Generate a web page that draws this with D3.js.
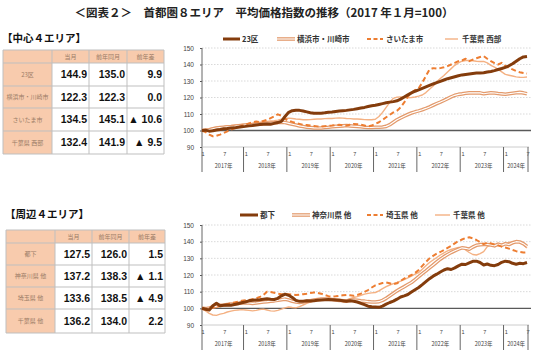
<!DOCTYPE html>
<html>
<head>
<meta charset="utf-8">
<script src="https://cdn.jsdelivr.net/npm/d3@7"></script>
<style>
  body { margin: 0; background: #fff; }
  svg { display: block; }
  text { font-family: "Noto Sans CJK JP", "Noto Sans", sans-serif; }
  .num { font-family: "Liberation Sans", Arial, sans-serif; font-weight: bold; }
</style>
</head>
<body>
<div id="chart"></div>
<script>
// ---- data (monthly index, 2017-01 .. 2024-07, 2017-01 = 100) ----
var years = ["2017年", "2018年", "2019年", "2020年", "2021年", "2022年", "2023年", "2024年"];
var colHeads = ["当月", "前年同月", "前年差"];

var centralNames = ["23区", "横浜市・川崎市", "さいたま市", "千葉県 西部"];
var centralNow = [144.9, 122.3, 134.5, 132.4];
var centralPrev = [135.0, 122.3, 145.1, 141.9];
var centralDiff = [9.9, 0.0, -10.6, -9.5];

var suburbNames = ["都下", "神奈川県 他", "埼玉県 他", "千葉県 他"];
var suburbNow = [127.5, 137.2, 133.6, 136.2];
var suburbPrev = [126.0, 138.3, 138.5, 134.0];
var suburbDiff = [1.5, -1.1, -4.9, 2.2];

var s23ku = [
  100, 100.2, 99.6, 99.8, 100.3, 100.6, 101.0, 101.2, 101.5, 101.6, 102.0, 102.3,
  102.5, 102.8, 103.0, 103.3, 103.6, 103.8, 104.0, 103.8, 104.3, 104.8, 105.5, 108.5,
  111.0, 112.0, 112.3, 112.2, 111.8, 111.3, 110.8, 110.5, 110.4, 110.5, 110.7, 111.0,
  111.2, 111.5, 111.8, 112.0, 112.2, 112.5, 112.8, 113.2, 113.6, 114.0, 114.5, 115.0,
  115.3, 115.8, 116.3, 116.8, 117.2, 117.5, 118.0, 119.0, 120.3, 121.6, 122.8, 123.8,
  124.6, 125.5, 126.4, 127.3, 128.2, 129.0, 129.8, 130.6, 131.4, 132.0, 132.6, 133.2,
  133.7, 134.0, 134.3, 134.6, 134.8, 134.9, 135.0, 135.4, 135.8, 136.3, 137.0, 137.6,
  138.3, 139.2, 140.5, 142.0, 143.5, 144.6, 144.9];
var sYokohama = [
  100, 100.3, 100.5, 101.0, 101.5, 101.8, 102.0, 102.2, 102.3, 102.5, 102.8, 103.0,
  103.3, 103.5, 103.6, 103.8, 104.0, 104.2, 104.4, 104.5, 104.7, 104.8, 105.0, 104.8,
  104.3, 103.8, 103.3, 102.8, 102.4, 102.0, 101.8, 101.6, 101.5, 101.6, 101.8, 102.0,
  102.3, 102.5, 102.6, 102.8, 103.0, 102.8, 102.6, 102.5, 102.3, 102.0, 101.8, 101.8,
  102.0, 102.0, 102.1, 102.5, 103.5, 105.0, 106.5, 107.6, 108.7, 109.7, 110.6, 111.3,
  111.9, 112.6, 113.4, 114.3, 115.3, 116.3, 117.2, 118.2, 119.3, 120.4, 121.3, 121.9,
  122.2, 122.6, 122.8, 122.9, 122.8, 122.8, 122.3, 122.6, 122.9, 122.7, 122.4, 122.2,
  122.0, 122.3, 122.6, 122.9, 123.1, 122.8, 122.3];
var sSaitama = [
  100, 99.0, 97.5, 96.5, 96.8, 97.5, 98.5, 99.5, 100.5, 101.3, 102.0, 102.8,
  103.5, 104.3, 105.0, 105.5, 105.0, 105.8, 106.5, 107.5, 108.5, 109.8, 109.0, 107.0,
  106.0, 105.2, 104.5, 104.0, 103.5, 103.3, 103.0, 102.8, 102.5, 102.4, 102.6, 102.8,
  103.0, 103.3, 103.5, 103.2, 103.0, 103.5, 104.0, 103.8, 103.5, 103.0, 102.5, 103.0,
  104.0, 105.0, 106.5, 108.0, 109.5, 111.0, 112.0, 114.0, 117.0, 120.5, 123.0, 124.5,
  125.5, 129.0, 133.0, 137.0, 137.8, 137.5, 137.8, 138.3, 139.0, 140.0, 141.0, 142.0,
  142.5, 143.5, 142.0, 143.0, 143.8, 144.5, 145.1, 143.5, 142.0, 140.8, 140.0, 141.0,
  139.0, 138.0, 137.0, 136.0, 135.3, 134.8, 134.5];
var sChibaWest = [
  100, 100.5, 101.0, 101.5, 102.0, 102.3, 102.5, 102.8, 103.0, 103.3, 103.5, 103.8,
  104.0, 104.3, 104.5, 104.8, 105.0, 105.2, 105.5, 105.8, 106.0, 106.3, 106.8, 107.3,
  107.5, 107.3, 107.0, 106.8, 106.5, 106.5, 106.6, 106.8, 107.0, 107.0, 107.2, 107.3,
  107.3, 107.5, 107.6, 107.5, 107.3, 107.2, 107.0, 107.0, 106.8, 106.6, 106.5, 106.5,
  106.8, 108.5, 111.0, 114.0, 117.0, 119.5, 120.2, 120.3, 120.0, 119.8, 120.0, 120.3,
  120.8, 121.5, 123.0, 125.0, 127.0, 129.5, 131.5, 133.3, 135.5, 137.5, 139.5, 141.0,
  142.0, 142.4, 142.5, 142.3, 142.0, 141.8, 141.9, 141.0, 139.5, 138.4, 137.0, 135.5,
  134.0, 133.5, 133.0, 132.5, 132.3, 132.2, 132.4];

var sToka = [
  100, 99.5, 99.0, 101.5, 103.0, 101.5, 101.8, 102.0, 101.8, 102.3, 102.8, 103.3,
  103.8, 104.5, 104.8, 105.0, 105.2, 105.5, 105.8, 105.5, 105.3, 106.0, 107.5, 108.5,
  107.8, 106.5, 104.8, 104.2, 104.3, 104.5, 104.4, 104.6, 104.8, 105.0, 105.2, 105.3,
  105.2, 105.0, 104.8, 104.5, 104.2, 104.5, 104.3, 103.8, 103.0, 102.2, 101.3, 101.0,
  100.8, 100.6, 101.3, 102.5, 103.5, 104.3, 105.5, 106.8, 107.5, 108.3, 109.8, 111.2,
  112.5, 114.2, 116.0, 117.8, 119.3, 120.5, 121.8, 123.0, 123.8, 123.3, 124.3, 125.5,
  126.5, 126.3, 127.3, 128.2, 128.3, 127.5, 126.0, 126.6, 125.8, 125.6, 126.3, 127.6,
  128.3, 128.0, 127.0, 126.5, 127.0, 126.8, 127.5];
var sKanagawa = [
  100, 99.8, 100.2, 100.8, 101.3, 101.8, 102.0, 102.3, 102.5, 102.7, 103.0, 103.2,
  103.3, 103.2, 103.0, 103.2, 103.5, 103.8, 104.0, 104.3, 104.5, 104.8, 105.2, 105.5,
  105.0, 104.3, 103.8, 103.6, 103.8, 104.2, 104.6, 105.0, 105.3, 105.5, 105.6, 105.5,
  105.3, 105.0, 104.8, 104.5, 104.3, 104.8, 105.0, 104.8, 104.5, 104.3, 104.0, 103.8,
  103.8, 104.0, 104.8, 106.0, 107.5, 109.0, 110.5, 111.8, 113.0, 114.3, 115.5, 117.2,
  119.0, 120.8, 122.5, 124.3, 126.0, 127.8, 129.5, 131.0, 132.3, 133.5, 134.5, 135.5,
  136.3, 136.0, 135.5, 136.8, 137.8, 138.2, 138.3, 138.3, 138.0, 137.5, 138.5, 137.8,
  138.8, 138.3, 139.3, 140.0, 139.8, 138.8, 137.2];
var sSaitamaOther = [
  100, 99.3, 99.8, 100.5, 101.0, 101.5, 102.0, 102.5, 103.0, 103.5, 104.0, 104.5,
  104.8, 105.0, 105.5, 106.0, 106.8, 108.0, 110.0, 109.8, 109.3, 108.8, 108.5, 108.5,
  108.5, 108.3, 108.0, 108.2, 108.5, 108.8, 109.2, 109.5, 109.3, 108.8, 108.0, 107.3,
  107.0, 107.2, 107.5, 107.8, 108.0, 107.8, 107.5, 108.0, 108.8, 109.8, 111.0, 112.5,
  113.8, 114.5, 115.2, 115.5, 115.0, 114.5, 115.0, 116.5, 117.8, 119.0, 120.0, 121.2,
  123.0, 125.5, 127.8, 130.0, 131.5, 132.8, 133.8, 135.0, 136.3, 137.5, 139.0, 140.3,
  141.3, 142.2, 142.6, 142.0, 141.0, 139.8, 138.5, 139.3, 139.0, 138.3, 137.8, 137.0,
  136.5, 135.8, 135.0, 134.3, 133.8, 133.5, 133.6];
var sChibaOther = [
  100, 98.5, 97.0, 96.0, 95.8, 96.5, 97.0, 97.8, 98.3, 98.8, 99.0, 99.2,
  99.0, 98.8, 98.5, 98.8, 99.3, 99.5, 99.0, 98.5, 98.3, 98.8, 99.5, 100.3,
  100.8, 100.5, 100.3, 101.0, 102.0, 103.0, 103.8, 104.5, 105.0, 105.5, 105.3, 105.0,
  105.3, 105.5, 105.2, 104.8, 105.0, 105.8, 106.5, 107.0, 107.8, 108.5, 109.0, 109.3,
  109.5, 110.5, 111.8, 113.0, 114.0, 114.8, 115.5, 116.3, 117.3, 118.3, 119.3, 120.5,
  121.5, 123.5, 125.5, 127.5, 129.0, 130.5, 132.0, 133.3, 134.5, 135.3, 136.0, 136.5,
  136.5, 135.0, 133.5, 132.3, 132.0, 132.8, 134.0, 137.0, 138.0, 138.3, 138.0, 138.5,
  139.0, 139.5, 140.0, 140.2, 139.5, 138.0, 136.2];

var yTicks = [90, 100, 110, 120, 130, 140, 150];

// ---- drawing ----
var W = 536, H = 363;
var svg = d3.select("#chart").append("svg").attr("width", W).attr("height", H);

svg.append("text")
  .attr("x", 264).attr("y", 17)
  .attr("text-anchor", "middle")
  .style("font-size", "11.5px").style("font-weight", "bold").attr("fill", "#222")
  .text("＜図表２＞　首都圏８エリア　平均価格指数の推移（2017 年１月=100）");

var styles = [
  {color: "#843c0c", width: 3, dash: null, dbl: false},
  {color: "#e39a6c", width: 3.6, dash: null, dbl: true},
  {color: "#ed7d31", width: 2, dash: "5,3", dbl: false},
  {color: "#f4b183", width: 1.4, dash: null, dbl: false}
];

function fmtDiff(v) {
  return v < 0 ? "▲ " + d3.format(".1f")(-v) : d3.format(".1f")(v);
}

function drawTable(cfg) {
  var g = svg.append("g");
  var xs = cfg.xs, ys = cfg.ys;
  g.append("text").attr("x", cfg.titleX).attr("y", cfg.titleY)
    .style("font-size", "10.5px").style("font-weight", "bold").attr("fill", "#111")
    .text(cfg.title);
  // peach cells: header row and label column
  g.append("rect").attr("x", xs[0]).attr("y", ys[0]).attr("width", xs[4] - xs[0]).attr("height", ys[1] - ys[0]).attr("fill", "#f8cbad");
  g.append("rect").attr("x", xs[0]).attr("y", ys[0]).attr("width", xs[1] - xs[0]).attr("height", ys[5] - ys[0]).attr("fill", "#f8cbad");
  xs.forEach(function (x) {
    g.append("line").attr("x1", x).attr("x2", x).attr("y1", ys[0]).attr("y2", ys[5]).attr("stroke", "#bfbfbf").attr("stroke-width", 1);
  });
  ys.forEach(function (y) {
    g.append("line").attr("x1", xs[0]).attr("x2", xs[4]).attr("y1", y).attr("y2", y).attr("stroke", "#bfbfbf").attr("stroke-width", 1);
  });
  colHeads.forEach(function (h, i) {
    g.append("text").attr("x", (xs[i + 1] + xs[i + 2]) / 2).attr("y", (ys[0] + ys[1]) / 2 + 2.3)
      .attr("text-anchor", "middle").style("font-size", "6px").attr("fill", "#9a7b66").text(h);
  });
  cfg.names.forEach(function (n, r) {
    var cy = (ys[r + 1] + ys[r + 2]) / 2;
    g.append("text").attr("x", (xs[0] + xs[1]) / 2).attr("y", cy + 2.2)
      .attr("text-anchor", "middle").style("font-size", "6px").attr("fill", "#9a7b66").text(n);
    var vals = [d3.format(".1f")(cfg.now[r]), d3.format(".1f")(cfg.prev[r]), fmtDiff(cfg.diff[r])];
    vals.forEach(function (v, c) {
      g.append("text").attr("class", "num").attr("x", xs[c + 2] - 2).attr("y", cy + 3.8)
        .attr("text-anchor", "end").style("font-size", "10.5px").attr("fill", "#111").text(v);
    });
  });
}

function drawChart(cfg) {
  var g = svg.append("g");
  var x = d3.scaleLinear().domain([0, 90]).range([cfg.x0, cfg.x1]);
  var y = d3.scaleLinear().domain([90, 150]).range([cfg.yBottom, cfg.yTop]);

  // grid lines
  g.selectAll(".grid").data(yTicks.filter(function (t) { return t !== 100 && t !== 90; }))
    .enter().append("line")
    .attr("x1", cfg.x0).attr("x2", cfg.x1 + 4)
    .attr("y1", function (d) { return y(d); }).attr("y2", function (d) { return y(d); })
    .attr("stroke", "#cfcfcf").attr("stroke-width", 0.8).attr("stroke-dasharray", "1.5,1.5");

  var yAxis = g.append("g").attr("transform", "translate(" + cfg.x0 + ",0)")
    .call(d3.axisLeft(y).tickValues(yTicks).tickSize(2).tickFormat(d3.format("d")));
  yAxis.select(".domain").remove();
  yAxis.selectAll("line").attr("stroke", "#555");
  yAxis.selectAll("text").style("font-size", "6.5px").attr("fill", "#444")
    .style("font-family", "'Liberation Sans', Arial, sans-serif").attr("dx", "-3");

  // vertical axis line (down through the date labels)
  g.append("line").attr("x1", cfg.x0).attr("x2", cfg.x0).attr("y1", cfg.yTop).attr("y2", cfg.yBottom + 25)
    .attr("stroke", "#666").attr("stroke-width", 1);
  // 90 line (category axis)
  g.append("line").attr("x1", cfg.x0).attr("x2", cfg.x1 + 2).attr("y1", y(90)).attr("y2", y(90))
    .attr("stroke", "#bfbfbf").attr("stroke-width", 0.8);

  // year separators, month ticks and year labels
  years.forEach(function (yr, i) {
    var start = i * 12;
    var end = Math.min(start + 12, 90);
    if (i > 0) {
      g.append("line").attr("x1", x(start) - 1.8).attr("x2", x(start) - 1.8)
        .attr("y1", y(90)).attr("y2", y(90) + 25).attr("stroke", "#666").attr("stroke-width", 1);
    }
    [start, start + 6].forEach(function (m) {
      if (m > 90) return;
      g.append("text").attr("x", x(m) + 1).attr("y", y(90) + 9)
        .attr("text-anchor", "middle").style("font-size", "5.5px").attr("fill", "#444")
        .style("font-family", "'Liberation Sans', Arial, sans-serif").text(m % 12 === 0 ? "1" : "7");
    });
    g.append("text").attr("x", (x(start) + x(end)) / 2).attr("y", y(90) + 21)
      .attr("text-anchor", "middle").style("font-size", "5.5px").attr("fill", "#444").text(yr);
  });
  g.append("line").attr("x1", cfg.x1 + 1).attr("x2", cfg.x1 + 1)
    .attr("y1", y(90)).attr("y2", y(90) + 25).attr("stroke", "#666").attr("stroke-width", 1);

  // 100 base line
  g.append("line").attr("x1", cfg.x0).attr("x2", cfg.x1 + 4).attr("y1", y(100)).attr("y2", y(100))
    .attr("stroke", "#595959").attr("stroke-width", 1.3);

  var line = d3.line().x(function (d, i) { return x(i); }).y(function (d) { return y(d); }).curve(d3.curveLinear);

  // draw order: lighter first, main last
  [3, 1, 2, 0].forEach(function (k) {
    var st = styles[k];
    var p = g.append("path").datum(cfg.series[k]).attr("d", line).attr("fill", "none")
      .attr("stroke", st.color).attr("stroke-width", st.width).attr("stroke-linejoin", "round");
    if (st.dash) p.attr("stroke-dasharray", st.dash);
    if (st.dbl) {
      g.append("path").datum(cfg.series[k]).attr("d", line).attr("fill", "none")
        .attr("stroke", "#fff").attr("stroke-width", 1.1).attr("stroke-linejoin", "round");
    }
  });

  // legend
  cfg.legend.forEach(function (L, k) {
    var st = styles[k];
    var ln = g.append("line").attr("x1", L[0]).attr("x2", L[1]).attr("y1", cfg.legendY).attr("y2", cfg.legendY)
      .attr("stroke", st.color).attr("stroke-width", st.width);
    if (st.dash) ln.attr("stroke-dasharray", "4,2.5");
    if (st.dbl) {
      g.append("line").attr("x1", L[0]).attr("x2", L[1]).attr("y1", cfg.legendY).attr("y2", cfg.legendY)
        .attr("stroke", "#fff").attr("stroke-width", 1.1);
    }
    g.append("text").attr("x", L[2]).attr("y", cfg.legendY + 3)
      .style("font-size", "7.5px").style("font-weight", "bold").attr("fill", "#333").text(cfg.names[k]);
  });
}

drawTable({
  title: "【中心４エリア】", titleX: 2, titleY: 42,
  xs: [3, 52, 89, 127, 164], ys: [50, 63, 86, 108, 131, 154],
  names: centralNames, now: centralNow, prev: centralPrev, diff: centralDiff
});
drawTable({
  title: "【周辺４エリア】", titleX: 5, titleY: 218,
  xs: [6, 55, 92, 129, 165], ys: [230, 243, 265, 287, 309, 333],
  names: suburbNames, now: suburbNow, prev: suburbPrev, diff: suburbDiff
});

drawChart({
  x0: 202, x1: 527, yTop: 48, yBottom: 147, legendY: 39,
  series: [s23ku, sYokohama, sSaitama, sChibaWest], names: centralNames,
  legend: [[223, 240, 242], [277, 295, 297], [367, 383, 386], [445, 458, 462]]
});
drawChart({
  x0: 202, x1: 527, yTop: 225, yBottom: 325, legendY: 215,
  series: [sToka, sKanagawa, sSaitamaOther, sChibaOther], names: suburbNames,
  legend: [[240, 258, 260], [292, 310, 312], [367, 383, 386], [435, 450, 453]]
});
</script>
</body>
</html>
